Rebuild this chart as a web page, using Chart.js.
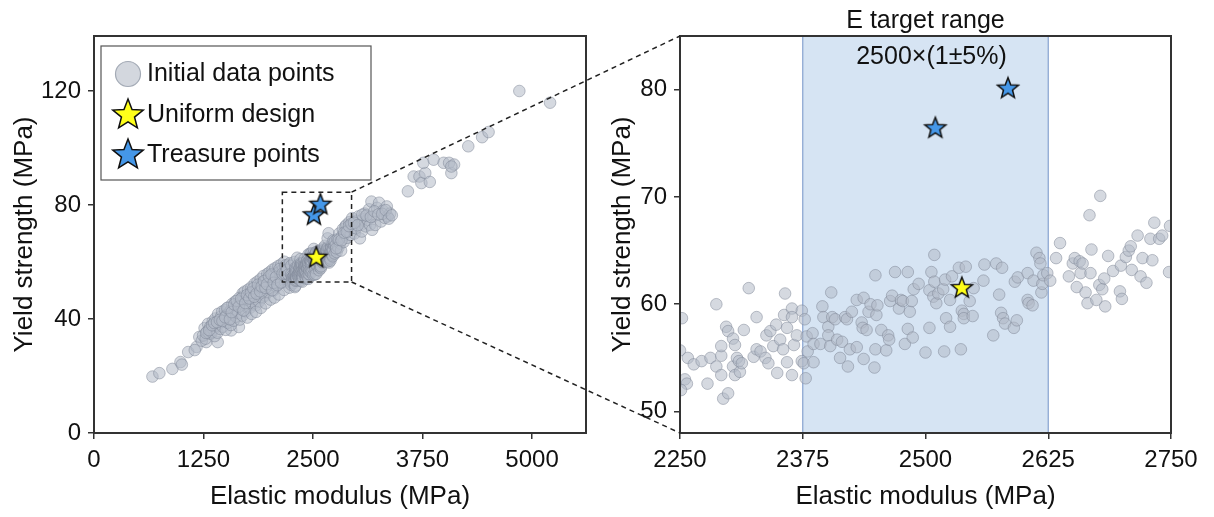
<!DOCTYPE html>
<html><head><meta charset="utf-8">
<script src="https://cdn.jsdelivr.net/npm/chart.js@4.4.1/dist/chart.umd.min.js"></script>
<style>
html,body{margin:0;padding:0;background:#fff;}
#wrap{position:relative;width:1214px;height:517px;overflow:hidden;background:#fff;}
#wrap canvas{position:absolute;left:0;top:0;}
</style></head><body>
<div id="wrap">
<canvas id="leftC" width="600" height="517" style="width:600px;height:517px"></canvas>
<canvas id="rightC" width="1214" height="517" style="width:1214px;height:517px"></canvas>
</div>
<script>
// ---------------- data ----------------
const seriesLabels = ['Initial data points', 'Uniform design', 'Treasure points'];

// low-modulus outliers
const lowE = [667,746,895,987,1003,1075,1171,1202,1150,1281,1338,1412,1478,1566,1654,1697,1230];
const lowY = [19.8,21.0,22.5,24.9,24.0,28.4,30.2,33.7,29.1,31.9,34.9,31.9,39.0,36.0,37.2,49.0,32.4];

// main band 1250-2250 MPa
const bandE = [1245,1262,1275,1290,1302,1318,1326,1341,1355,1362,
  1377,1386,1398,1409,1417,1430,1442,1451,1463,1470,
  1488,1495,1503,1512,1526,1534,1541,1557,1563,1578,
  1586,1594,1608,1615,1622,1637,1646,1659,1664,1673,
  1688,1694,1703,1712,1720,1733,1741,1752,1760,1768,
  1779,1786,1797,1805,1813,1822,1834,1841,1850,1859,
  1866,1875,1884,1893,1902,1910,1918,1927,1935,1943,
  1952,1961,1969,1978,1986,1995,2004,2012,2021,2029,
  2038,2046,2055,2063,2071,2080,2088,2097,2105,2113,
  2122,2130,2139,2147,2156,2164,2173,2181,2190,2198,
  2207,2215,2224,2232,2241,1750,1800,1850,1905,1960,
  2015,2060,2110,2170,2230];
const bandY = [34.2,36.8,33.1,35.6,38.3,34.9,37.2,35.4,39.1,36.3,
  34.0,40.2,37.6,35.2,41.8,38.4,36.5,40.9,42.6,37.3,
  39.8,43.1,36.2,41.4,38.7,44.0,40.2,42.8,37.9,45.3,
  41.6,39.4,43.7,46.2,40.8,44.9,42.1,47.4,39.8,45.8,
  43.3,41.2,47.9,45.0,49.6,42.7,46.8,44.1,50.3,48.2,
  43.9,46.4,51.2,48.9,45.2,49.7,52.4,47.0,44.8,50.6,
  53.1,48.3,46.1,51.7,54.0,49.2,47.4,52.6,55.1,50.3,
  48.2,53.6,51.0,55.8,49.5,52.9,56.4,50.8,54.3,52.0,
  57.3,49.9,55.2,53.1,57.9,51.4,55.9,53.8,58.6,52.3,
  56.7,54.6,59.2,53.0,57.4,55.3,60.1,52.9,58.0,56.2,
  54.1,59.0,57.1,53.6,56.5,40.5,41.8,42.5,43.9,45.5,
  46.8,47.5,48.6,50.2,51.0];
const band2E = [1280,1315,1348,1372,1404,1436,1466,1498,1520,1552,
  1572,1601,1630,1652,1680,1707,1727,1746,1773,1792,
  1818,1828,1856,1871,1897,1914,1940,1957,1974,1999,
  2026,2034,2051,2076,2093,2118,2135,2152,2178,2186,
  2202,2219,2237];
const band2Y = [35.1,36.1,37.8,38.6,38.9,39.7,39.3,40.6,43.9,39.9,
  42.4,45.1,46.4,44.3,47.1,43.0,45.6,48.4,47.2,49.3,
  50.8,47.8,48.9,52.0,49.7,51.4,53.3,50.9,52.2,54.9,
  55.6,50.1,52.7,54.7,51.9,57.5,52.8,55.9,56.0,58.8,
  57.3,55.6,59.6];

// zoomed window 2250-2750 MPa
const zoomE = [2252,2250,2258,2264,2272,2281,2255,2257,2251,2278,
  2287,2287,2292,2292,2297,2299,2292,2294,2299,2304,
  2306,2304,2308,2306,2311,2310,2313,2315,2320,2328,
  2325,2328,2332,2337,2340,2338,2342,2345,2348,2349,
  2352,2355,2356,2357,2359,2359,2364,2364,2364,2366,
  2369,2374,2374,2376,2377,2378,2379,2380,2385,2386,
  2386,2393,2395,2396,2401,2401,2403,2404,2405,2408,
  2410,2413,2415,2418,2420,2421,2423,2425,2430,2430,
  2435,2436,2437,2437,2440,2442,2444,2448,2449,2449,
  2450,2451,2455,2460,2462,2463,2464,2466,2469,2473,
  2475,2477,2479,2482,2482,2484,2486,2487,2488,2493,
  2500,2504,2504,2506,2508,2509,2509,2511,2513,2518,
  2519,2520,2521,2525,2525,2527,2534,2536,2537,2539,
  2539,2541,2545,2548,2549,2559,2560,2569,2572,2575,
  2578,2577,2579,2581,2590,2591,2593,2594,2604,2604,
  2605,2609,2610,2613,2616,2617,2618,2619,2620,2624,
  2627,2633,2637,2646,2650,2652,2654,2657,2658,2660,
  2663,2665,2668,2669,2674,2677,2680,2682,2683,2686,
  2691,2698,2699,2700,2704,2707,2709,2710,2716,2719,
  2721,2725,2729,2731,2738,2741,2748,2667,2678,2733,
  2749];
const zoomY = [58.7,55.7,55.0,54.4,54.7,55.0,53.0,52.6,52.0,52.6,
  60.0,54.2,55.2,56.1,57.9,57.5,53.4,51.2,51.7,56.8,
  56.2,54.2,55.0,53.4,53.7,54.7,54.5,57.6,61.5,58.8,
  55.1,55.8,55.6,55.0,54.5,57.1,57.5,56.1,58.1,53.6,
  56.7,55.8,59.0,61.0,57.8,54.6,59.6,58.8,53.4,56.2,
  57.1,59.4,54.7,54.5,58.6,53.1,57.0,55.6,57.3,54.6,
  56.3,56.3,59.8,58.8,57.9,57.1,56.1,61.1,58.8,58.6,
  56.7,55.0,56.5,58.8,58.6,54.2,55.8,59.3,60.4,56.0,
  58.3,57.8,60.6,54.9,57.6,59.3,60.0,54.1,55.8,62.7,
  59.0,59.9,57.6,55.7,57.1,56.7,60.3,60.8,63.0,59.6,
  60.4,60.3,56.3,63.0,57.7,59.3,60.3,56.9,61.4,61.9,
  55.5,61.3,57.8,63.0,60.7,62.1,64.6,60.1,61.0,61.4,
  55.6,62.3,58.7,60.4,57.9,62.6,63.4,55.8,59.4,59.1,
  58.7,63.5,60.3,58.9,61.5,62.2,63.7,57.1,63.8,60.9,
  63.4,59.2,58.7,58.2,57.8,62.1,58.5,62.5,62.9,60.4,
  60.1,59.9,62.2,64.8,64.3,63.8,61.1,61.9,62.7,62.9,
  62.2,64.3,65.7,62.6,63.8,64.3,61.6,64.0,62.9,63.8,
  61.1,60.1,62.9,65.1,60.4,61.8,61.4,62.4,59.8,64.5,
  63.1,61.2,63.6,60.5,64.4,65.0,65.4,63.2,66.4,62.6,
  64.3,62.0,66.1,64.1,66.1,66.4,63.0,68.3,70.1,67.6,
  67.3];

// upper band 2750-3400 MPa
const upperE = [2760,2770,2780,2790,2800,2810,2820,2830,2840,2850,
  2860,2870,2882,2890,2900,2915,2930,2947,2960,2975,
  2991,3000,3020,3035,3045,3057,3070,3090,3100,3123,
  3140,3150,3167,3175,3190,3211,3230,3254,3276,3298,
  3320,3342,3351,3380];
const upperY = [66.0,63.5,68.0,65.0,70.0,66.5,64.0,69.0,71.5,67.0,
  69.6,72.5,73.0,68.5,71.0,74.0,69.5,75.4,72.0,70.0,
  71.8,74.5,76.0,68.3,73.0,70.7,75.0,77.0,72.5,74.8,
  78.5,73.0,81.2,71.3,76.0,73.0,79.0,80.8,74.2,78.0,
  75.5,79.5,76.0,77.0];
const upper2E = [2765,2795,2825,2855,2885,2910,2938,2968,3010,3062,
  3110,3160,3200,3245,3290,3330,3365,3400];
const upper2Y = [64.8,67.8,67.6,70.3,70.6,72.6,73.4,73.8,72.9,76.6,
  76.3,75.8,77.8,76.7,76.9,78.2,75.2,76.4];

// high-modulus outliers
const highE = [3583,3649,3715,3737,3781,3759,3833,3877,3991,4053,4079,4110,4079,4272,4430,4504,4855,5206];
const highY = [84.8,90.0,90.0,87.7,91.2,94.8,88.1,95.9,94.8,94.8,91.2,94.2,93.5,100.6,103.8,105.6,120.0,115.9];

const uniformE = [2537];
const uniformY = [61.5];
const treasureE = [2510, 2584];
const treasureY = [76.4, 80.1];

const leftXTicks = [0, 1250, 2500, 3750, 5000];
const leftYTicks = [0, 40, 80, 120];
const rightXTicks = [2250, 2375, 2500, 2625, 2750];
const rightYTicks = [50, 60, 70, 80];
const targetRange = [2375, 2625];
const zoomBoxE = [2150, 2940];
const zoomBoxY = [53, 84.5];

// ---------------- helpers ----------------
const FONT = "'Liberation Sans', Arial, Helvetica, sans-serif";
Chart.defaults.font.family = FONT;
Chart.defaults.color = '#111';

function toXY(E, Y) { return E.map((x, i) => ({x: x, y: Y[i]})); }
const initE = [].concat(lowE, bandE, band2E, zoomE, upperE, upper2E, highE);
const initY = [].concat(lowY, bandY, band2Y, zoomY, upperY, upper2Y, highY);

function starPath(g, cx, cy, R, r) {
  g.beginPath();
  for (let i = 0; i < 10; i++) {
    const a = -Math.PI / 2 + i * Math.PI / 5;
    const rad = i % 2 === 0 ? R : r;
    g.lineTo(cx + rad * Math.cos(a), cy + rad * Math.sin(a));
  }
  g.closePath();
}
function starCanvas(R, fill) {
  const s = Math.ceil(2 * (R + 3));
  const c = document.createElement('canvas');
  c.width = s; c.height = s;
  const g = c.getContext('2d');
  starPath(g, s / 2, s / 2, R, R * 0.43);
  g.fillStyle = fill; g.fill();
  g.lineWidth = 1.5; g.strokeStyle = '#111'; g.lineJoin = 'miter'; g.stroke();
  return c;
}
const YELLOW = '#ffff1a', BLUE = '#4597e8';
const yellowStar = starCanvas(11, YELLOW);
const blueStar = starCanvas(11, BLUE);
const yellowStarL = starCanvas(16, YELLOW);
const blueStarL = starCanvas(16, BLUE);

const PT_FILL = 'rgba(178,186,199,0.55)';
const PT_EDGE = 'rgba(125,134,150,0.5)';
const AXIS = '#333';

function makeDatasets() {
  return [
    {label: seriesLabels[2], data: toXY(treasureE, treasureY), pointStyle: blueStar, pointRadius: 10, order: 0},
    {label: seriesLabels[1], data: toXY(uniformE, uniformY), pointStyle: yellowStar, pointRadius: 10, order: 1},
    {label: seriesLabels[0], data: toXY(initE, initY), pointStyle: 'circle', pointRadius: 5.8,
      backgroundColor: PT_FILL, borderColor: PT_EDGE, borderWidth: 1, order: 2}
  ];
}

function axisCommon(ticksArr, fitFn, titleText, titlePad) {
  return {
    type: 'linear',
    afterBuildTicks: s => { s.ticks = ticksArr.map(v => ({value: v})); },
    afterFit: fitFn,
    grid: {display: true, drawOnChartArea: false, drawTicks: true, tickLength: 6, color: AXIS, lineWidth: 1.5},
    border: {display: false},
    ticks: {font: {size: 24}, color: '#111', padding: 7, maxRotation: 0, autoSkip: false,
      callback: v => String(v)},
    title: {display: true, text: titleText, font: {size: 26}, color: '#111', padding: titlePad}
  };
}

function frame(chart) {
  const {ctx, chartArea: a} = chart;
  ctx.save();
  ctx.strokeStyle = AXIS; ctx.lineWidth = 2;
  ctx.strokeRect(a.left, a.top, a.right - a.left, a.bottom - a.top);
  ctx.restore();
}

// ---------------- left chart ----------------
const leftPlugin = {
  id: 'leftDecor',
  afterDatasetsDraw(chart) {
    const {ctx} = chart; const xs = chart.scales.x, ys = chart.scales.y;
    const x0 = xs.getPixelForValue(zoomBoxE[0]), x1 = xs.getPixelForValue(zoomBoxE[1]);
    const y0 = ys.getPixelForValue(zoomBoxY[0]), y1 = ys.getPixelForValue(zoomBoxY[1]);
    ctx.save();
    ctx.setLineDash([5, 4]); ctx.lineWidth = 1.5; ctx.strokeStyle = '#222';
    ctx.strokeRect(x0, y1, x1 - x0, y0 - y1);
    ctx.restore();
  },
  afterDraw(chart) {
    frame(chart);
    const {ctx, chartArea: a} = chart;
    const bx = a.left + 7, by = a.top + 10, bw = 270, bh = 134;
    ctx.save();
    ctx.fillStyle = '#fff';
    ctx.fillRect(bx, by, bw, bh);
    ctx.strokeStyle = '#555'; ctx.lineWidth = 1.2;
    ctx.strokeRect(bx, by, bw, bh);
    const ix = bx + 27, tx = bx + 46;
    const rows = [by + 28, by + 69, by + 109];
    // circle
    ctx.beginPath(); ctx.arc(ix, rows[0], 12.5, 0, Math.PI * 2);
    ctx.fillStyle = '#d3d7de'; ctx.fill();
    ctx.strokeStyle = '#a3aab5'; ctx.lineWidth = 1.2; ctx.stroke();
    ctx.drawImage(yellowStarL, ix - yellowStarL.width / 2, rows[1] - yellowStarL.height / 2);
    ctx.drawImage(blueStarL, ix - blueStarL.width / 2, rows[2] - blueStarL.height / 2);
    ctx.fillStyle = '#111'; ctx.font = '25px ' + FONT;
    ctx.textAlign = 'left'; ctx.textBaseline = 'middle';
    ctx.fillText(seriesLabels[0], tx, rows[0]);
    ctx.fillText(seriesLabels[1], tx, rows[1]);
    ctx.fillText(seriesLabels[2], tx, rows[2]);
    ctx.restore();
  }
};

const leftX = axisCommon(leftXTicks, s => { s.height = 84; }, 'Elastic modulus (MPa)', {top: 0, bottom: 5});
leftX.min = 0; leftX.max = 5616; leftX.position = 'bottom';
const leftY = axisCommon(leftYTicks, s => { s.width = 94; }, 'Yield strength (MPa)', {top: 9, bottom: 0});
leftY.min = 0; leftY.max = 139.3; leftY.position = 'left';

const leftChart = new Chart(document.getElementById('leftC'), {
  type: 'scatter',
  data: {datasets: makeDatasets()},
  options: {
    responsive: false, animation: false, events: [],
    layout: {padding: {left: 0, right: 14, top: 36, bottom: 0}},
    plugins: {legend: {display: false}, tooltip: {enabled: false}, title: {display: false}},
    scales: {x: leftX, y: leftY}
  },
  plugins: [leftPlugin]
});

// ---------------- right chart ----------------
const rightPlugin = {
  id: 'rightDecor',
  beforeDatasetsDraw(chart) {
    const {ctx, chartArea: a} = chart; const xs = chart.scales.x;
    const x0 = xs.getPixelForValue(targetRange[0]), x1 = xs.getPixelForValue(targetRange[1]);
    ctx.save();
    ctx.fillStyle = '#d6e4f3';
    ctx.fillRect(x0, a.top, x1 - x0, a.bottom - a.top);
    ctx.strokeStyle = '#87a3cf'; ctx.lineWidth = 1.2;
    ctx.beginPath();
    ctx.moveTo(x0, a.top); ctx.lineTo(x0, a.bottom);
    ctx.moveTo(x1, a.top); ctx.lineTo(x1, a.bottom);
    ctx.stroke();
    ctx.restore();
  },
  afterDraw(chart) {
    const {ctx, chartArea: a} = chart; const xs = chart.scales.x;
    frame(chart);
    ctx.save();
    const cx = xs.getPixelForValue((targetRange[0] + targetRange[1]) / 2) + 6;
    ctx.fillStyle = '#111'; ctx.font = '25px ' + FONT;
    ctx.textAlign = 'center'; ctx.textBaseline = 'middle';
    ctx.fillText('2500\u00d7(1\u00b15%)', cx, a.top + 21);
    // connectors from zoom box on the left chart
    const lx = leftChart.scales.x, ly = leftChart.scales.y;
    const bx = lx.getPixelForValue(zoomBoxE[1]);
    const byT = ly.getPixelForValue(zoomBoxY[1]), byB = ly.getPixelForValue(zoomBoxY[0]);
    ctx.setLineDash([5, 4]); ctx.lineWidth = 1.5; ctx.strokeStyle = '#222';
    ctx.beginPath();
    ctx.moveTo(bx, byT); ctx.lineTo(a.left, a.top);
    ctx.moveTo(bx, byB); ctx.lineTo(a.left, a.bottom);
    ctx.stroke();
    ctx.restore();
  }
};

const rightX = axisCommon(rightXTicks, s => { s.height = 84; }, 'Elastic modulus (MPa)', {top: 0, bottom: 5});
rightX.min = 2250; rightX.max = 2750; rightX.position = 'bottom';
const rightY = axisCommon(rightYTicks, s => { s.width = 80; }, 'Yield strength (MPa)', {top: 7, bottom: 0});
rightY.min = 48; rightY.max = 85; rightY.position = 'left';

const rightChart = new Chart(document.getElementById('rightC'), {
  type: 'scatter',
  data: {datasets: makeDatasets()},
  options: {
    responsive: false, animation: false, events: [],
    layout: {padding: {left: 600, right: 43, top: 0, bottom: 0}},
    plugins: {
      legend: {display: false}, tooltip: {enabled: false},
      title: {display: true, text: 'E target range', fullSize: false,
        font: {size: 25, weight: 'normal'}, color: '#111', padding: {top: 6, bottom: 0}}
    },
    scales: {x: rightX, y: rightY}
  },
  plugins: [rightPlugin]
});
</script>
</body></html>
